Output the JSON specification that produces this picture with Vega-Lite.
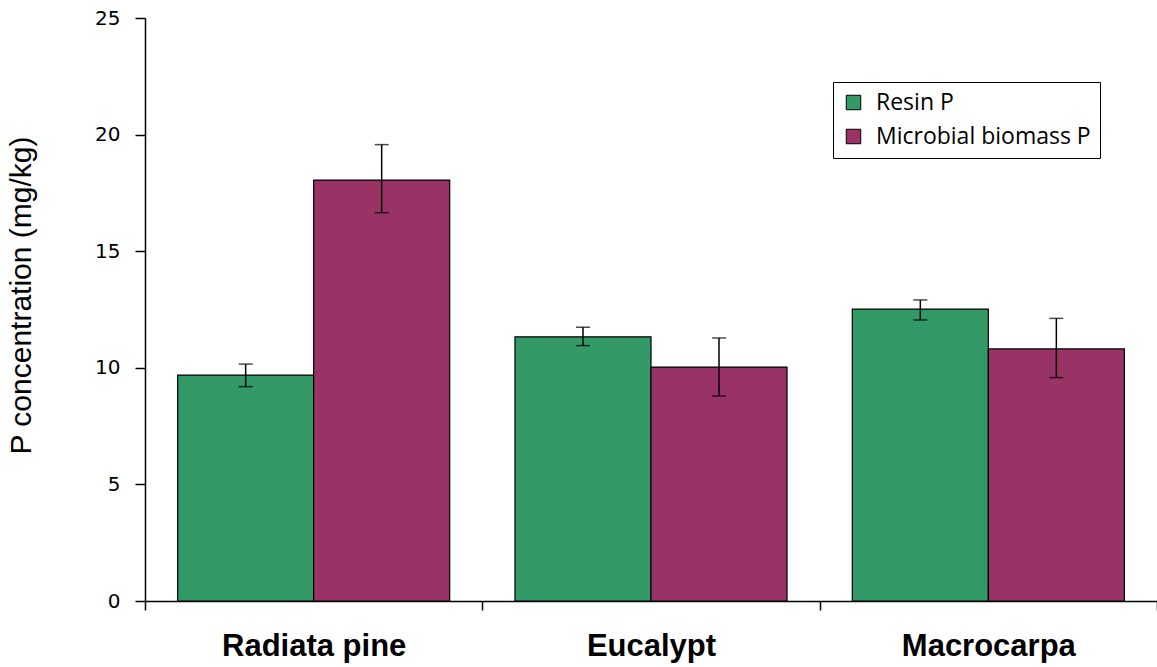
{
  "$schema": "https://vega.github.io/schema/vega-lite/v6.json",
  "width": 1012,
  "height": 583,
  "autosize": {"type": "none"},
  "padding": {"left": 145, "top": 18, "right": 0, "bottom": 66},
  "background": "white",
  "config": {"view": {"stroke": null}},
  "data": {
    "values": [
      {"site": "Radiata pine", "type": "Resin P", "value": 9.69, "lo": 9.19, "hi": 10.16},
      {"site": "Radiata pine", "type": "Microbial biomass P", "value": 18.05, "lo": 16.65, "hi": 19.57},
      {"site": "Eucalypt", "type": "Resin P", "value": 11.33, "lo": 10.95, "hi": 11.74},
      {"site": "Eucalypt", "type": "Microbial biomass P", "value": 10.03, "lo": 8.79, "hi": 11.28},
      {"site": "Macrocarpa", "type": "Resin P", "value": 12.52, "lo": 12.05, "hi": 12.91},
      {"site": "Macrocarpa", "type": "Microbial biomass P", "value": 10.81, "lo": 9.58, "hi": 12.12}
    ]
  },
  "encoding": {
    "x": {
      "field": "site", "type": "nominal", "sort": ["Radiata pine", "Eucalypt", "Macrocarpa"],
      "scale": {"paddingInner": 0, "paddingOuter": 0},
      "axis": {
        "title": null, "labelAngle": 0, "tickBand": "extent", "grid": false,
        "domainColor": "black", "tickColor": "black", "tickSize": 9, "domainWidth": 1.5, "tickWidth": 1.5,
        "labelFont": "Liberation Sans", "labelFontWeight": "bold", "labelFontSize": 31,
        "labelColor": "black", "labelPadding": 21, "labelLimit": 400
      }
    },
    "xOffset": {
      "field": "type", "type": "nominal", "sort": ["Resin P", "Microbial biomass P"],
      "scale": {"paddingInner": 0, "paddingOuter": 0.24}
    }
  },
  "layer": [
    {
      "mark": {"type": "bar", "stroke": "black", "strokeWidth": 1.2},
      "encoding": {
        "y": {
          "field": "value", "type": "quantitative",
          "scale": {"domain": [0, 25], "nice": false},
          "axis": {
            "title": "P concentration (mg/kg)", "values": [0, 5, 10, 15, 20, 25], "grid": false,
            "domainColor": "black", "tickColor": "black", "tickSize": 10, "domainWidth": 1.5, "tickWidth": 1.5,
            "labelFont": "DejaVu Sans", "labelFontSize": 20, "labelColor": "black", "labelPadding": 15,
            "titleFont": "Liberation Sans", "titleFontSize": 30, "titleFontWeight": "normal", "titleColor": "black",
            "titleAngle": -90, "titleX": -109, "titleY": 277, "titleBaseline": "bottom", "titleAlign": "center"
          }
        },
        "color": {
          "field": "type", "type": "nominal", "sort": ["Resin P", "Microbial biomass P"],
          "scale": {"domain": ["Resin P", "Microbial biomass P"], "range": ["#339966", "#993366"]},
          "legend": {
            "title": null, "orient": "none", "legendX": 688, "legendY": 64,
            "symbolType": "square", "symbolSize": 210, "symbolStrokeColor": "black", "symbolStrokeWidth": 1,
            "labelFont": "Open Sans", "labelFontSize": 23, "labelColor": "black", "labelLimit": 400,
            "strokeColor": "black", "fillColor": "white", "padding": 9, "rowPadding": 10,
            "symbolOffset": 0, "labelOffset": 11
          }
        }
      }
    },
    {
      "mark": {"type": "rule", "color": "black", "strokeWidth": 1.5},
      "encoding": {
        "y": {"field": "lo", "type": "quantitative"},
        "y2": {"field": "hi"}
      }
    },
    {
      "mark": {"type": "tick", "color": "black", "thickness": 1.5, "size": 14},
      "encoding": {"y": {"field": "lo", "type": "quantitative"}}
    },
    {
      "mark": {"type": "tick", "color": "black", "thickness": 1.5, "size": 14},
      "encoding": {"y": {"field": "hi", "type": "quantitative"}}
    }
  ]
}
